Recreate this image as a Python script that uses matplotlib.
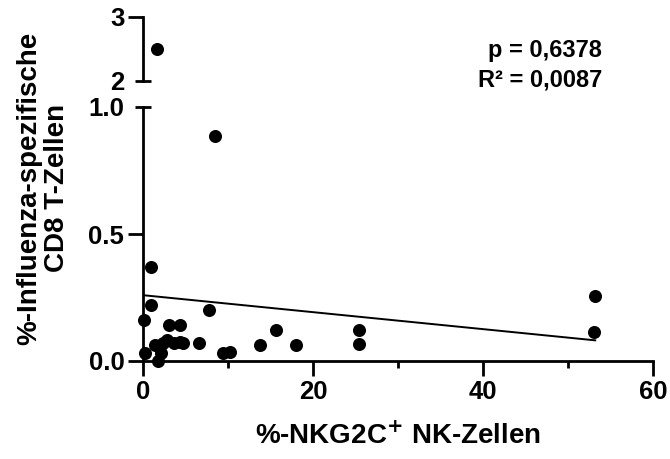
import numpy as np
import matplotlib
matplotlib.use('Agg')
import matplotlib.pyplot as plt

plt.rcParams['font.family'] = ['Liberation Sans', 'DejaVu Sans']
plt.rcParams['font.weight'] = 'bold'

# %-NKG2C+ NK cells vs. %-influenza-specific CD8 T cells
nkg2c = [0.9, 0.94, 0.15, 0.24, 1.4, 1.8, 2.1, 2.4, 2.8, 3.0, 4.3, 3.6, 4.35,
         4.7, 6.6, 7.8, 9.45, 10.2, 13.8, 15.6, 18.0, 25.4, 25.4, 53.2, 53.0,
         8.5, 1.65]
cd8 = [0.372, 0.22, 0.162, 0.033, 0.063, 0.0, 0.03, 0.07, 0.083, 0.14, 0.14,
       0.07, 0.076, 0.07, 0.07, 0.2, 0.033, 0.037, 0.063, 0.122, 0.063, 0.122,
       0.066, 0.254, 0.113, 0.885, 2.5]
p_text = 'p = 0,6378'
r2_text = 'R² = 0,0087'

x = np.array(nkg2c)
y = np.array(cd8)
slope, intercept = np.polyfit(x, y, 1)

fig = plt.figure(figsize=(6.7, 4.59), dpi=100)
W, H = 670, 459
ax = fig.add_axes([143 / W, 1 - 361 / H, 510 / W, 254 / H])
ax_top = fig.add_axes([143 / W, 1 - 81 / H, 510 / W, 64 / H], sharex=ax)

lw = 2.0
fs = 18.5
low = y <= 1
ax.scatter(x[low], y[low], s=88, color='black', zorder=3, clip_on=False,
           linewidths=0)
ax_top.scatter(x[~low], y[~low], s=88, color='black', zorder=3,
               clip_on=False, linewidths=0)

for a in (ax, ax_top):
    for s in ('top', 'right'):
        a.spines[s].set_visible(False)
    a.spines['left'].set_linewidth(lw)
    a.spines['bottom'].set_linewidth(lw)
    a.tick_params(which='both', width=lw, labelsize=fs, pad=3)
    a.tick_params(which='major', length=10.5)

ax_top.spines['bottom'].set_visible(False)
ax_top.tick_params(axis='x', which='both', bottom=False, labelbottom=False)

# regression line across the measured x range
xs = np.array([x.min(), x.max()])
ax.plot(xs, intercept + slope * xs, color='black', lw=1.4, zorder=2)

ax.set_xlim(0, 60)
ax.set_xticks([0, 20, 40, 60])
ax.set_xticks([10, 30, 50], minor=True)
ax.tick_params(axis='x', which='minor', length=5)

# axis-break caps are drawn as centred minor ticks
ax.set_ylim(0, 1)
ax.set_yticks([0.0, 0.5], labels=['0.0', '0.5'])
ax.set_yticks([1.0], labels=['1.0'], minor=True)
ax.tick_params(axis='y', which='minor', direction='inout', length=12,
               labelsize=fs, pad=7.5)

ax_top.set_ylim(2, 3)
ax_top.set_yticks([3], labels=['3'])
ax_top.set_yticks([2], labels=['2'], minor=True)
ax_top.tick_params(axis='y', which='minor', direction='inout', length=12,
                   labelsize=fs, pad=7.5)

for a in (ax, ax_top):
    for lab in a.get_xticklabels() + a.get_yticklabels() + \
            a.get_yticklabels(minor=True):
        lab.set_fontweight('bold')

fig.text(398 / W, 1 - 436 / H, '%-NKG2C$^{\\mathbf{+}}$ NK-Zellen',
         ha='center', va='center', fontsize=20, fontweight='bold')
fig.text(43 / W, 1 - 188 / H, '%-Influenza-spezifische\nCD8 T-Zellen',
         ha='center', va='center', rotation=90, fontsize=20,
         fontweight='bold', linespacing=1.05)
fig.text(602 / W, 1 - 50 / H, p_text, ha='right', va='center',
         fontsize=17, fontweight='bold')
fig.text(602 / W, 1 - 80 / H, r2_text, ha='right', va='center',
         fontsize=17, fontweight='bold')

fig.savefig('out.png', dpi=100)
